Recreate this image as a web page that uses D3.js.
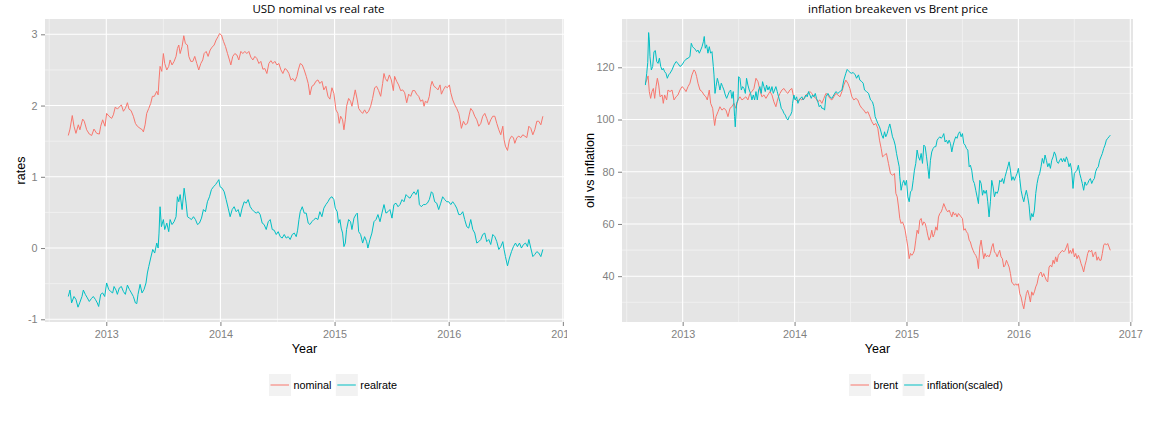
<!DOCTYPE html>
<html>
<head>
<meta charset="utf-8">
<script src="https://cdn.jsdelivr.net/npm/d3@7/dist/d3.min.js"></script>
<style>
  body { margin: 0; background: #fff; }
  svg { display: block; }
  text { font-family: "Liberation Sans", Arial, sans-serif; }
</style>
</head>
<body>
<svg id="chart" width="1160" height="423"></svg>
<script>
// ---- data (decimal years) ----
const nominalYears = [
  2012.667, 2012.682, 2012.702, 2012.717, 2012.734, 2012.755, 2012.769, 2012.793, 2012.807, 2012.828,
  2012.851, 2012.872, 2012.892, 2012.916, 2012.939, 2012.951, 2012.968, 2012.989, 2013.003, 2013.024,
  2013.047, 2013.062, 2013.079, 2013.097, 2013.114, 2013.132, 2013.150, 2013.167, 2013.185, 2013.199,
  2013.217, 2013.237, 2013.255, 2013.272, 2013.296, 2013.316, 2013.325, 2013.340, 2013.354, 2013.372,
  2013.389, 2013.404, 2013.421, 2013.442, 2013.454, 2013.462, 2013.471, 2013.486, 2013.500, 2013.512,
  2013.530, 2013.547, 2013.559, 2013.576, 2013.594, 2013.611, 2013.623, 2013.635, 2013.647, 2013.664,
  2013.679, 2013.693, 2013.711, 2013.723, 2013.740, 2013.758, 2013.775, 2013.793, 2013.810, 2013.828,
  2013.845, 2013.857, 2013.875, 2013.892, 2013.910, 2013.927, 2013.945, 2013.962, 2013.980, 2013.992,
  2014.009, 2014.027, 2014.044, 2014.062, 2014.079, 2014.091, 2014.108, 2014.126, 2014.144, 2014.161,
  2014.179, 2014.196, 2014.214, 2014.231, 2014.249, 2014.266, 2014.284, 2014.302, 2014.319, 2014.337,
  2014.354, 2014.372, 2014.389, 2014.407, 2014.424, 2014.442, 2014.459, 2014.477, 2014.495, 2014.512,
  2014.530, 2014.547, 2014.565, 2014.582, 2014.600, 2014.617, 2014.635, 2014.652, 2014.670, 2014.682,
  2014.699, 2014.717, 2014.734, 2014.752, 2014.769, 2014.784, 2014.801, 2014.819, 2014.836, 2014.854,
  2014.871, 2014.889, 2014.906, 2014.924, 2014.942, 2014.959, 2014.977, 2014.994, 2015.012, 2015.029,
  2015.041, 2015.053, 2015.070, 2015.082, 2015.094, 2015.105, 2015.123, 2015.140, 2015.152, 2015.170,
  2015.181, 2015.199, 2015.211, 2015.228, 2015.246, 2015.263, 2015.281, 2015.298, 2015.316, 2015.333,
  2015.351, 2015.368, 2015.386, 2015.404, 2015.421, 2015.433, 2015.445, 2015.462, 2015.480, 2015.497,
  2015.515, 2015.526, 2015.544, 2015.561, 2015.579, 2015.597, 2015.614, 2015.632, 2015.649, 2015.667,
  2015.684, 2015.702, 2015.719, 2015.737, 2015.754, 2015.772, 2015.784, 2015.795, 2015.813, 2015.830,
  2015.842, 2015.854, 2015.871, 2015.889, 2015.906, 2015.924, 2015.936, 2015.953, 2015.971, 2015.988,
  2016.006, 2016.018, 2016.035, 2016.053, 2016.070, 2016.088, 2016.099, 2016.111, 2016.129, 2016.146,
  2016.164, 2016.181, 2016.193, 2016.211, 2016.228, 2016.246, 2016.263, 2016.281, 2016.298, 2016.316,
  2016.333, 2016.351, 2016.368, 2016.386, 2016.404, 2016.421, 2016.439, 2016.456, 2016.474, 2016.485,
  2016.497, 2016.515, 2016.532, 2016.550, 2016.567, 2016.579, 2016.597, 2016.614, 2016.632, 2016.649,
  2016.667, 2016.684, 2016.702, 2016.719, 2016.737, 2016.754, 2016.772, 2016.789, 2016.807, 2016.825
];
const nominal = [
  1.58, 1.67, 1.86, 1.71, 1.61, 1.73, 1.66, 1.81, 1.78, 1.66,
  1.60, 1.58, 1.67, 1.61, 1.60, 1.71, 1.80, 1.71, 1.89, 1.85,
  1.82, 1.87, 1.98, 1.95, 1.98, 2.01, 1.92, 1.96, 2.04, 1.95,
  1.93, 1.85, 1.75, 1.71, 1.68, 1.66, 1.63, 1.73, 1.89, 1.96,
  2.03, 2.13, 2.13, 2.20, 2.15, 2.36, 2.55, 2.48, 2.73, 2.59,
  2.50, 2.55, 2.64, 2.57, 2.62, 2.69, 2.80, 2.85, 2.73, 2.83,
  2.98, 2.87, 2.85, 2.69, 2.62, 2.62, 2.69, 2.59, 2.50, 2.59,
  2.64, 2.73, 2.76, 2.69, 2.78, 2.82, 2.85, 2.92, 2.97, 3.01,
  2.99, 2.90, 2.83, 2.73, 2.64, 2.57, 2.69, 2.73, 2.71, 2.64,
  2.76, 2.73, 2.76, 2.73, 2.76, 2.68, 2.64, 2.69, 2.66, 2.59,
  2.62, 2.51, 2.52, 2.45, 2.59, 2.63, 2.59, 2.62, 2.57, 2.59,
  2.50, 2.45, 2.52, 2.50, 2.45, 2.36, 2.38, 2.34, 2.41, 2.50,
  2.59, 2.57, 2.50, 2.41, 2.31, 2.15, 2.27, 2.29, 2.34, 2.36,
  2.31, 2.34, 2.22, 2.27, 2.13, 2.09, 2.25, 2.17, 1.94, 1.89,
  1.75, 1.85, 1.80, 1.66, 1.80, 1.99, 2.10, 2.06, 1.99, 2.13,
  2.22, 2.08, 1.96, 1.92, 1.89, 1.94, 1.89, 1.92, 1.99, 2.10,
  2.25, 2.27, 2.21, 2.13, 2.31, 2.45, 2.38, 2.34, 2.43, 2.36,
  2.21, 2.41, 2.34, 2.29, 2.21, 2.22, 2.18, 2.04, 2.16, 2.13,
  2.21, 2.21, 2.16, 2.13, 2.06, 2.08, 1.99, 2.06, 2.04, 2.13,
  2.27, 2.34, 2.27, 2.25, 2.22, 2.29, 2.16, 2.22, 2.27, 2.25,
  2.29, 2.18, 2.08, 2.01, 1.96, 1.89, 1.80, 1.68, 1.78, 1.73,
  1.75, 1.88, 1.96, 1.92, 1.85, 1.80, 1.71, 1.75, 1.85, 1.89,
  1.82, 1.73, 1.80, 1.85, 1.85, 1.75, 1.66, 1.59, 1.71, 1.52,
  1.43, 1.37, 1.52, 1.57, 1.55, 1.47, 1.55, 1.57, 1.55, 1.59,
  1.57, 1.55, 1.71, 1.68, 1.59, 1.66, 1.78, 1.78, 1.73, 1.85
];

const realrateYears = [
  2012.667, 2012.682, 2012.696, 2012.717, 2012.734, 2012.752, 2012.769, 2012.787, 2012.799, 2012.816,
  2012.834, 2012.851, 2012.869, 2012.886, 2012.904, 2012.921, 2012.933, 2012.951, 2012.968, 2012.986,
  2013.003, 2013.021, 2013.038, 2013.056, 2013.068, 2013.085, 2013.097, 2013.114, 2013.132, 2013.150,
  2013.167, 2013.185, 2013.202, 2013.220, 2013.237, 2013.255, 2013.267, 2013.278, 2013.296, 2013.313,
  2013.331, 2013.348, 2013.360, 2013.372, 2013.389, 2013.407, 2013.424, 2013.442, 2013.454, 2013.462,
  2013.471, 2013.483, 2013.500, 2013.512, 2013.530, 2013.547, 2013.559, 2013.576, 2013.594, 2013.611,
  2013.623, 2013.635, 2013.647, 2013.664, 2013.682, 2013.699, 2013.711, 2013.729, 2013.746, 2013.764,
  2013.781, 2013.799, 2013.816, 2013.834, 2013.851, 2013.869, 2013.886, 2013.904, 2013.921, 2013.939,
  2013.957, 2013.974, 2013.986, 2013.997, 2014.015, 2014.033, 2014.050, 2014.068, 2014.085, 2014.103,
  2014.120, 2014.138, 2014.155, 2014.173, 2014.190, 2014.208, 2014.226, 2014.243, 2014.261, 2014.278,
  2014.296, 2014.313, 2014.331, 2014.348, 2014.366, 2014.383, 2014.401, 2014.419, 2014.436, 2014.454,
  2014.471, 2014.489, 2014.506, 2014.524, 2014.541, 2014.559, 2014.576, 2014.594, 2014.611, 2014.629,
  2014.647, 2014.664, 2014.676, 2014.688, 2014.699, 2014.717, 2014.734, 2014.752, 2014.769, 2014.784,
  2014.801, 2014.819, 2014.836, 2014.854, 2014.871, 2014.889, 2014.906, 2014.924, 2014.942, 2014.959,
  2014.977, 2014.994, 2015.006, 2015.023, 2015.035, 2015.047, 2015.058, 2015.070, 2015.082, 2015.094,
  2015.105, 2015.123, 2015.140, 2015.152, 2015.170, 2015.187, 2015.199, 2015.211, 2015.228, 2015.246,
  2015.263, 2015.281, 2015.292, 2015.310, 2015.327, 2015.345, 2015.363, 2015.380, 2015.398, 2015.415,
  2015.433, 2015.450, 2015.468, 2015.485, 2015.503, 2015.520, 2015.538, 2015.556, 2015.573, 2015.591,
  2015.608, 2015.626, 2015.643, 2015.661, 2015.678, 2015.696, 2015.713, 2015.731, 2015.743, 2015.760,
  2015.778, 2015.795, 2015.813, 2015.830, 2015.848, 2015.860, 2015.877, 2015.895, 2015.912, 2015.930,
  2015.947, 2015.965, 2015.983, 2016.000, 2016.018, 2016.035, 2016.053, 2016.070, 2016.088, 2016.105,
  2016.123, 2016.140, 2016.158, 2016.175, 2016.193, 2016.211, 2016.228, 2016.246, 2016.263, 2016.281,
  2016.298, 2016.316, 2016.333, 2016.351, 2016.368, 2016.386, 2016.404, 2016.421, 2016.439, 2016.456,
  2016.474, 2016.485, 2016.497, 2016.515, 2016.532, 2016.550, 2016.567, 2016.585, 2016.602, 2016.620,
  2016.637, 2016.655, 2016.673, 2016.690, 2016.702, 2016.719, 2016.737, 2016.754, 2016.772, 2016.789,
  2016.807, 2016.825
];
const realrate = [
  -0.68, -0.59, -0.77, -0.68, -0.72, -0.83, -0.76, -0.68, -0.59, -0.65,
  -0.70, -0.75, -0.71, -0.68, -0.72, -0.77, -0.82, -0.65, -0.63, -0.68,
  -0.49, -0.58, -0.61, -0.63, -0.54, -0.59, -0.65, -0.56, -0.54, -0.61,
  -0.65, -0.52, -0.58, -0.63, -0.68, -0.77, -0.78, -0.65, -0.51, -0.63,
  -0.58, -0.49, -0.35, -0.26, -0.14, -0.02, -0.07, 0.07, 0.00, 0.21,
  0.58, 0.30, 0.40, 0.26, 0.35, 0.23, 0.40, 0.33, 0.37, 0.44,
  0.72, 0.65, 0.75, 0.54, 0.84, 0.63, 0.44, 0.42, 0.40, 0.44,
  0.40, 0.33, 0.35, 0.42, 0.54, 0.51, 0.65, 0.72, 0.82, 0.86,
  0.89, 0.93, 0.96, 0.86, 0.84, 0.79, 0.68, 0.56, 0.44, 0.54,
  0.58, 0.51, 0.54, 0.44, 0.56, 0.65, 0.63, 0.68, 0.58, 0.54,
  0.51, 0.49, 0.51, 0.47, 0.35, 0.33, 0.26, 0.37, 0.40, 0.26,
  0.25, 0.19, 0.23, 0.16, 0.14, 0.19, 0.14, 0.16, 0.12, 0.19,
  0.21, 0.16, 0.25, 0.40, 0.51, 0.58, 0.49, 0.49, 0.35, 0.33,
  0.37, 0.40, 0.42, 0.40, 0.51, 0.44, 0.56, 0.61, 0.65, 0.70,
  0.72, 0.68, 0.56, 0.51, 0.35, 0.40, 0.28, 0.21, 0.02, 0.07,
  0.26, 0.40, 0.37, 0.26, 0.42, 0.47, 0.49, 0.23, 0.19, 0.07,
  0.16, 0.09, 0.00, 0.12, 0.21, 0.37, 0.40, 0.47, 0.37, 0.49,
  0.61, 0.49, 0.51, 0.54, 0.42, 0.61, 0.63, 0.58, 0.61, 0.68,
  0.65, 0.75, 0.72, 0.70, 0.75, 0.79, 0.75, 0.82, 0.61, 0.58,
  0.61, 0.61, 0.63, 0.68, 0.79, 0.77, 0.65, 0.63, 0.54, 0.63,
  0.72, 0.68, 0.65, 0.65, 0.61, 0.65, 0.61, 0.56, 0.47, 0.47,
  0.51, 0.40, 0.30, 0.28, 0.40, 0.26, 0.21, 0.07, 0.09, 0.12,
  0.19, 0.21, 0.09, 0.12, 0.05, 0.19, 0.16, 0.09, -0.02, 0.02,
  0.09, -0.02, -0.12, -0.25, -0.14, -0.05, 0.02, 0.07, 0.02, 0.07,
  0.00, 0.05, 0.07, 0.02, 0.12, 0.00, -0.12, -0.09, -0.05, -0.07,
  -0.12, -0.02
];

const brentYears = [
  2012.667, 2012.679, 2012.691, 2012.702, 2012.714, 2012.726, 2012.738, 2012.750, 2012.762, 2012.774,
  2012.786, 2012.798, 2012.816, 2012.827, 2012.839, 2012.857, 2012.869, 2012.887, 2012.905, 2012.923,
  2012.941, 2012.958, 2012.976, 2012.994, 2013.012, 2013.030, 2013.048, 2013.065, 2013.083, 2013.101,
  2013.113, 2013.125, 2013.137, 2013.155, 2013.173, 2013.191, 2013.208, 2013.220, 2013.238, 2013.250,
  2013.268, 2013.280, 2013.286, 2013.298, 2013.316, 2013.333, 2013.351, 2013.369, 2013.387, 2013.405,
  2013.423, 2013.440, 2013.458, 2013.476, 2013.494, 2013.512, 2013.530, 2013.548, 2013.565, 2013.583,
  2013.601, 2013.619, 2013.637, 2013.655, 2013.673, 2013.690, 2013.708, 2013.726, 2013.744, 2013.762,
  2013.780, 2013.798, 2013.815, 2013.833, 2013.851, 2013.869, 2013.887, 2013.905, 2013.923, 2013.940,
  2013.958, 2013.976, 2013.994, 2014.012, 2014.030, 2014.048, 2014.065, 2014.083, 2014.101, 2014.119,
  2014.137, 2014.155, 2014.173, 2014.191, 2014.208, 2014.226, 2014.244, 2014.262, 2014.280, 2014.298,
  2014.315, 2014.333, 2014.351, 2014.369, 2014.387, 2014.405, 2014.423, 2014.440, 2014.458, 2014.476,
  2014.494, 2014.512, 2014.530, 2014.548, 2014.565, 2014.583, 2014.601, 2014.619, 2014.637, 2014.655,
  2014.673, 2014.690, 2014.708, 2014.726, 2014.744, 2014.759, 2014.774, 2014.786, 2014.804, 2014.821,
  2014.839, 2014.857, 2014.875, 2014.893, 2014.905, 2014.917, 2014.929, 2014.940, 2014.952, 2014.964,
  2014.976, 2014.988, 2015.000, 2015.012, 2015.024, 2015.036, 2015.048, 2015.060, 2015.071, 2015.083,
  2015.095, 2015.107, 2015.119, 2015.131, 2015.143, 2015.155, 2015.167, 2015.179, 2015.190, 2015.202,
  2015.214, 2015.226, 2015.238, 2015.250, 2015.262, 2015.274, 2015.286, 2015.298, 2015.310, 2015.321,
  2015.333, 2015.345, 2015.357, 2015.369, 2015.381, 2015.393, 2015.405, 2015.417, 2015.429, 2015.440,
  2015.452, 2015.464, 2015.476, 2015.488, 2015.500, 2015.512, 2015.524, 2015.536, 2015.548, 2015.560,
  2015.571, 2015.583, 2015.595, 2015.607, 2015.619, 2015.631, 2015.643, 2015.655, 2015.667, 2015.679,
  2015.690, 2015.702, 2015.714, 2015.726, 2015.738, 2015.750, 2015.762, 2015.774, 2015.786, 2015.798,
  2015.810, 2015.821, 2015.833, 2015.845, 2015.857, 2015.869, 2015.881, 2015.893, 2015.905, 2015.917,
  2015.929, 2015.940, 2015.952, 2015.964, 2015.976, 2015.988, 2016.000, 2016.012, 2016.024, 2016.036,
  2016.048, 2016.060, 2016.071, 2016.083, 2016.095, 2016.107, 2016.119, 2016.131, 2016.143, 2016.155,
  2016.167, 2016.179, 2016.190, 2016.202, 2016.214, 2016.226, 2016.238, 2016.250, 2016.262, 2016.274,
  2016.286, 2016.298, 2016.310, 2016.321, 2016.333, 2016.345, 2016.357, 2016.369, 2016.381, 2016.393,
  2016.405, 2016.417, 2016.429, 2016.440, 2016.452, 2016.464, 2016.476, 2016.488, 2016.500, 2016.512,
  2016.524, 2016.536, 2016.548, 2016.560, 2016.571, 2016.583, 2016.595, 2016.607, 2016.619, 2016.631,
  2016.643, 2016.655, 2016.667, 2016.679, 2016.690, 2016.702, 2016.714, 2016.726, 2016.738, 2016.750,
  2016.762, 2016.774, 2016.786, 2016.798, 2016.810, 2016.821
];
const brent = [
  113.9, 115.1, 116.7, 110.7, 108.1, 110.7, 111.9, 108.1, 112.6, 115.8,
  113.2, 108.7, 109.4, 106.2, 109.4, 107.5, 111.3, 110.7, 111.3, 107.5,
  108.7, 109.4, 111.3, 112.6, 111.9, 110.7, 112.6, 113.9, 117.1, 119.0,
  118.3, 116.4, 113.9, 111.3, 110.7, 109.4, 108.7, 107.5, 111.3, 106.2,
  104.3, 99.8, 97.7, 101.1, 103.0, 104.9, 103.6, 104.3, 103.6, 101.1,
  104.3, 104.9, 106.2, 104.3, 107.5, 108.7, 107.5, 108.1, 108.7, 107.5,
  110.0, 110.7, 111.9, 115.8, 114.5, 111.3, 108.7, 109.4, 108.1, 109.4,
  110.7, 109.4, 106.8, 104.9, 108.1, 110.0, 111.3, 111.9, 110.7, 110.0,
  111.3, 111.9, 108.1, 107.5, 106.8, 108.1, 107.5, 108.1, 109.4, 110.0,
  110.7, 110.0, 108.7, 108.1, 106.8, 107.5, 106.2, 108.1, 110.0, 109.4,
  108.1, 107.5, 108.7, 110.0, 109.4, 108.7, 110.7, 113.2, 115.1, 113.9,
  111.9, 108.7, 107.5, 108.1, 107.5, 105.5, 104.3, 103.6, 102.4, 103.0,
  101.1, 99.2, 97.9, 98.5, 96.6, 92.1, 88.9, 85.7, 86.4, 87.0,
  83.2, 79.3, 78.7, 79.3, 71.7, 70.4, 66.5, 62.1, 60.2, 60.8,
  59.5, 57.6, 54.4, 51.2, 46.7, 48.7, 48.0, 48.7, 49.9, 53.8,
  57.6, 56.3, 61.4, 62.1, 59.5, 60.8, 60.2, 58.2, 55.7, 53.8,
  55.0, 57.6, 55.0, 56.3, 58.9, 57.6, 62.7, 64.0, 64.6, 65.9,
  67.8, 66.5, 65.3, 64.6, 65.3, 64.0, 62.7, 64.6, 63.4, 64.0,
  62.7, 64.0, 63.4, 62.7, 62.1, 57.6, 58.2, 57.0, 56.3, 53.8,
  53.1, 51.2, 49.9, 48.7, 48.0, 46.7, 42.9, 51.2, 53.8, 49.9,
  46.7, 48.7, 47.4, 48.0, 47.4, 48.7, 51.2, 52.5, 49.3, 48.7,
  47.4, 48.7, 49.9, 47.4, 46.7, 43.5, 44.2, 46.1, 44.8, 43.5,
  41.0, 37.8, 37.1, 36.5, 37.1, 36.5, 37.1, 33.3, 32.0, 29.5,
  27.5, 30.7, 33.3, 34.6, 32.7, 30.1, 34.0, 32.7, 34.0, 35.9,
  37.1, 39.7, 41.0, 41.6, 39.7, 41.0, 39.7, 38.4, 37.8, 43.5,
  44.2, 43.5, 46.1, 44.8, 47.4, 45.5, 48.0, 48.7, 49.3, 49.9,
  49.3, 49.9, 51.2, 52.5, 48.7, 49.9, 48.7, 50.6, 47.4, 48.7,
  46.7, 48.0, 46.7, 44.8, 43.5, 41.6, 44.2, 46.1, 48.7, 49.9,
  49.3, 49.9, 47.4, 48.7, 49.3, 46.1, 47.4, 46.1, 46.1, 48.7,
  51.9, 52.5, 51.9, 52.5, 51.2, 49.9
];

const inflationYears = [
  2012.667, 2012.679, 2012.688, 2012.696, 2012.702, 2012.708, 2012.720, 2012.732, 2012.744, 2012.756,
  2012.768, 2012.780, 2012.792, 2012.804, 2012.816, 2012.827, 2012.839, 2012.851, 2012.863, 2012.875,
  2012.887, 2012.905, 2012.923, 2012.941, 2012.958, 2012.976, 2012.994, 2013.012, 2013.030, 2013.048,
  2013.065, 2013.077, 2013.089, 2013.101, 2013.113, 2013.125, 2013.137, 2013.149, 2013.161, 2013.173,
  2013.185, 2013.193, 2013.202, 2013.214, 2013.226, 2013.238, 2013.250, 2013.262, 2013.274, 2013.280,
  2013.289, 2013.298, 2013.310, 2013.321, 2013.333, 2013.345, 2013.357, 2013.369, 2013.381, 2013.393,
  2013.405, 2013.417, 2013.429, 2013.440, 2013.452, 2013.464, 2013.470, 2013.482, 2013.494, 2013.500,
  2013.512, 2013.524, 2013.536, 2013.548, 2013.560, 2013.571, 2013.583, 2013.595, 2013.607, 2013.619,
  2013.631, 2013.643, 2013.655, 2013.667, 2013.679, 2013.690, 2013.702, 2013.714, 2013.726, 2013.738,
  2013.750, 2013.762, 2013.774, 2013.786, 2013.798, 2013.810, 2013.821, 2013.833, 2013.845, 2013.857,
  2013.869, 2013.881, 2013.893, 2013.905, 2013.917, 2013.929, 2013.940, 2013.952, 2013.964, 2013.976,
  2013.982, 2013.994, 2014.006, 2014.018, 2014.030, 2014.042, 2014.054, 2014.065, 2014.077, 2014.089,
  2014.101, 2014.113, 2014.125, 2014.137, 2014.149, 2014.161, 2014.173, 2014.185, 2014.196, 2014.208,
  2014.220, 2014.232, 2014.244, 2014.256, 2014.268, 2014.280, 2014.298, 2014.315, 2014.333, 2014.351,
  2014.369, 2014.387, 2014.405, 2014.423, 2014.440, 2014.458, 2014.470, 2014.488, 2014.506, 2014.524,
  2014.542, 2014.554, 2014.571, 2014.583, 2014.601, 2014.613, 2014.625, 2014.643, 2014.661, 2014.679,
  2014.696, 2014.708, 2014.720, 2014.732, 2014.744, 2014.759, 2014.768, 2014.780, 2014.792, 2014.804,
  2014.815, 2014.827, 2014.839, 2014.851, 2014.863, 2014.875, 2014.887, 2014.899, 2014.911, 2014.923,
  2014.935, 2014.940, 2014.952, 2014.964, 2014.976, 2014.988, 2015.000, 2015.012, 2015.024, 2015.036,
  2015.048, 2015.060, 2015.071, 2015.083, 2015.095, 2015.107, 2015.119, 2015.131, 2015.143, 2015.155,
  2015.167, 2015.179, 2015.190, 2015.202, 2015.214, 2015.226, 2015.238, 2015.250, 2015.262, 2015.274,
  2015.286, 2015.298, 2015.310, 2015.321, 2015.333, 2015.345, 2015.357, 2015.369, 2015.381, 2015.393,
  2015.405, 2015.417, 2015.429, 2015.440, 2015.452, 2015.464, 2015.476, 2015.488, 2015.500, 2015.512,
  2015.524, 2015.536, 2015.548, 2015.560, 2015.571, 2015.583, 2015.595, 2015.607, 2015.619, 2015.631,
  2015.643, 2015.655, 2015.667, 2015.679, 2015.690, 2015.702, 2015.714, 2015.726, 2015.738, 2015.750,
  2015.762, 2015.774, 2015.786, 2015.798, 2015.810, 2015.821, 2015.833, 2015.845, 2015.857, 2015.869,
  2015.881, 2015.893, 2015.905, 2015.917, 2015.929, 2015.940, 2015.952, 2015.964, 2015.976, 2015.988,
  2016.000, 2016.012, 2016.024, 2016.036, 2016.048, 2016.060, 2016.071, 2016.083, 2016.095, 2016.107,
  2016.119, 2016.131, 2016.143, 2016.155, 2016.167, 2016.179, 2016.190, 2016.202, 2016.214, 2016.226,
  2016.238, 2016.250, 2016.262, 2016.274, 2016.286, 2016.298, 2016.310, 2016.321, 2016.333, 2016.345,
  2016.357, 2016.369, 2016.381, 2016.393, 2016.405, 2016.417, 2016.429, 2016.440, 2016.452, 2016.464,
  2016.476, 2016.488, 2016.500, 2016.512, 2016.524, 2016.536, 2016.548, 2016.560, 2016.571, 2016.583,
  2016.595, 2016.607, 2016.619, 2016.631, 2016.643, 2016.655, 2016.667, 2016.679, 2016.690, 2016.702,
  2016.714, 2016.726, 2016.738, 2016.750, 2016.762, 2016.774, 2016.786, 2016.798, 2016.810, 2016.821
];
const inflation = [
  113.2, 117.7, 121.8, 133.3, 130.5, 124.1, 119.0, 120.3, 126.0, 126.4,
  122.2, 121.5, 123.5, 120.3, 119.0, 119.6, 118.3, 117.7, 115.8, 117.1,
  117.7, 119.0, 120.9, 122.2, 121.5, 120.3, 120.9, 122.2, 123.1, 123.5,
  124.1, 129.2, 127.9, 127.3, 126.9, 126.0, 126.6, 125.4, 126.6, 127.9,
  129.8, 131.8, 127.3, 128.6, 125.4, 127.9, 125.4, 126.0, 120.3, 117.1,
  110.0, 112.6, 115.8, 113.9, 111.3, 113.9, 112.6, 111.3, 109.4, 108.1,
  109.4, 110.7, 111.3, 108.1, 110.7, 101.1, 97.2, 106.2, 107.5, 116.4,
  115.8, 111.3, 112.6, 111.9, 110.0, 115.8, 113.2, 111.3, 110.0, 107.5,
  109.4, 107.5, 110.7, 107.5, 111.3, 112.6, 110.0, 114.5, 112.6, 110.7,
  113.2, 111.3, 112.6, 110.7, 112.6, 110.0, 111.3, 112.6, 110.7, 108.7,
  106.8, 104.3, 103.6, 102.4, 101.7, 100.4, 99.8, 101.1, 101.7, 103.0,
  106.2, 109.4, 107.5, 108.7, 106.2, 107.5, 108.1, 108.7, 107.5, 108.1,
  109.4, 108.7, 110.7, 109.4, 108.1, 109.4, 108.7, 110.0, 108.1, 106.8,
  104.9, 105.5, 104.3, 104.3, 103.6, 108.7, 110.0, 108.7, 108.1, 109.4,
  110.7, 110.0, 110.7, 111.3, 115.1, 117.7, 119.2, 118.3, 117.7, 118.0,
  117.1, 115.8, 117.1, 115.1, 114.5, 113.9, 111.3, 110.7, 110.0, 107.5,
  106.8, 104.9, 101.1, 99.8, 98.5, 97.2, 96.0, 94.0, 92.8, 95.3,
  93.4, 94.6, 96.6, 98.3, 96.0, 93.4, 92.1, 90.2, 87.0, 84.4,
  81.9, 78.1, 72.9, 75.5, 76.7, 74.8, 76.7, 70.4, 68.5, 72.3,
  72.9, 76.7, 80.6, 83.2, 88.3, 85.7, 84.4, 87.0, 83.2, 90.2,
  89.6, 85.7, 81.9, 77.4, 84.4, 87.6, 88.9, 89.6, 89.6, 92.1,
  92.8, 93.4, 92.8, 93.4, 94.6, 91.4, 92.1, 90.8, 92.1, 90.8,
  87.6, 90.2, 92.1, 93.4, 92.8, 94.6, 95.3, 93.4, 94.6, 90.8,
  90.2, 88.9, 88.3, 81.9, 82.5, 80.6, 76.7, 75.5, 72.9, 70.4,
  67.8, 76.7, 75.5, 71.0, 72.9, 71.7, 72.9, 68.5, 62.7, 68.5,
  76.7, 74.2, 70.4, 72.3, 71.7, 72.9, 76.7, 76.1, 77.4, 75.5,
  78.1, 80.0, 81.9, 83.8, 80.6, 76.7, 78.1, 76.7, 78.1, 79.3,
  81.3, 77.4, 72.9, 70.4, 68.5, 71.0, 72.9, 70.4, 67.2, 61.4,
  64.0, 62.7, 65.3, 71.7, 75.5, 78.1, 79.3, 81.9, 85.1, 83.2,
  86.4, 84.4, 81.9, 83.2, 81.3, 84.4, 85.7, 87.6, 86.4, 83.8,
  83.2, 84.4, 85.1, 83.8, 85.1, 83.8, 85.7, 84.4, 81.9, 83.2,
  80.6, 73.6, 79.3, 80.0, 80.6, 82.5, 79.3, 77.4, 75.5, 72.9,
  76.1, 74.8, 75.5, 76.7, 77.4, 75.5, 76.7, 77.4, 80.0, 81.3,
  81.9, 84.4, 85.7, 87.0, 88.9, 90.2, 92.1, 92.8, 93.4, 94.0
];

const yearTicks = [2013, 2014, 2015, 2016, 2017];
const yearMinor = [2012.5, 2013.5, 2014.5, 2015.5, 2016.5];
const rateTicks = [-1, 0, 1, 2, 3];
const rateMinor = [-0.5, 0.5, 1.5, 2.5];
const oilTicks = [40, 60, 80, 100, 120];
const oilMinor = [30, 50, 70, 90, 110, 130];

const RED = "#F8766D", CYAN = "#00BFC4";

const svg = d3.select("#chart");
svg.append("rect").attr("width", 1160).attr("height", 423).attr("fill", "#fff");

svg.append("defs").append("clipPath").attr("id", "leftClip")
  .append("rect").attr("x", 0).attr("y", 0).attr("width", 567).attr("height", 423);

function drawPanel(o) {
  const root = o.clip ? svg.append("g").attr("clip-path", `url(#${o.clip})`) : svg.append("g");
  const width = o.x1 - o.x0, height = o.y1 - o.y0;
  const g = root.append("g").attr("transform", `translate(${o.x0},${o.y0})`);

  const x = d3.scaleLinear().domain(o.xDomain).range([0, width]);
  const y = d3.scaleLinear().domain(o.yDomain).range([height, 0]);

  g.append("rect").attr("width", width).attr("height", height).attr("fill", "#e5e5e5");

  // minor grid
  g.selectAll(".vminor").data(o.xMinor.filter(v => v >= o.xDomain[0] && v <= o.xDomain[1]))
    .enter().append("line")
    .attr("x1", d => x(d)).attr("x2", d => x(d)).attr("y1", 0).attr("y2", height)
    .attr("stroke", "#f2f2f2").attr("stroke-width", 0.8);
  g.selectAll(".hminor").data(o.yMinor)
    .enter().append("line")
    .attr("y1", d => y(d)).attr("y2", d => y(d)).attr("x1", 0).attr("x2", width)
    .attr("stroke", "#f2f2f2").attr("stroke-width", 0.8);
  // major grid
  g.selectAll(".vmajor").data(o.xTicks.filter(v => v >= o.xDomain[0] && v <= o.xDomain[1]))
    .enter().append("line")
    .attr("x1", d => x(d)).attr("x2", d => x(d)).attr("y1", 0).attr("y2", height)
    .attr("stroke", "#fff").attr("stroke-width", 1.1);
  g.selectAll(".hmajor").data(o.yTicks)
    .enter().append("line")
    .attr("y1", d => y(d)).attr("y2", d => y(d)).attr("x1", 0).attr("x2", width)
    .attr("stroke", "#fff").attr("stroke-width", 1.1);

  // series
  const line = d3.line().x(d => x(d[0])).y(d => y(d[1]));
  o.series.forEach(s => {
    g.append("path")
      .datum(d3.zip(s.years, s.values))
      .attr("fill", "none")
      .attr("stroke", s.color)
      .attr("stroke-width", 1)
      .attr("d", line);
  });

  // axes (plain hyphen minus, integers, like the R output)
  const plain = d => String(d);
  const ax = g.append("g")
    .attr("transform", `translate(0,${height})`)
    .call(d3.axisBottom(x).tickValues(o.xTicks).tickFormat(plain).tickSize(4).tickPadding(4));
  const ay = g.append("g")
    .call(d3.axisLeft(y).tickValues(o.yTicks).tickFormat(plain).tickSize(4).tickPadding(3.5));
  [ax, ay].forEach(a => {
    a.select(".domain").remove();
    a.selectAll("line").attr("stroke", "#7f7f7f");
    a.selectAll("text").attr("fill", "#7f7f7f")
      .style("font-size", "10.8px")
      .style("font-family", '"Liberation Sans", Arial, sans-serif');
  });

  // titles
  root.append("text")
    .attr("x", o.titleX).attr("y", 12.5)
    .attr("text-anchor", "middle")
    .style("font-family", '"Open Sans", "DejaVu Sans", sans-serif')
    .style("font-size", "11.5px")
    .attr("fill", "#000")
    .text(o.title);
  root.append("text")
    .attr("x", o.x0 + width / 2).attr("y", 353)
    .attr("text-anchor", "middle")
    .style("font-size", "12.5px")
    .attr("fill", "#000")
    .text("Year");
  root.append("text")
    .attr("transform", `translate(${o.yLabelX},${o.y0 + height / 2}) rotate(-90)`)
    .attr("text-anchor", "middle")
    .style("font-size", "12.5px")
    .attr("fill", "#000")
    .text(o.yLabel);

  // legend
  let lx = o.legendX;
  const ly = 374;
  o.series.forEach(s => {
    root.append("rect").attr("x", lx).attr("y", ly).attr("width", 22).attr("height", 22).attr("fill", "#f2f2f2");
    root.append("line").attr("x1", lx + 1.5).attr("x2", lx + 20).attr("y1", ly + 11).attr("y2", ly + 11)
      .attr("stroke", s.color).attr("stroke-width", 1);
    const t = root.append("text").attr("x", lx + 24.5).attr("y", ly + 15.3)
      .style("font-size", "10.8px").attr("fill", "#000").text(s.name);
    lx += 24.5 + t.node().getComputedTextLength() + 4.5;
  });
}

drawPanel({
  x0: 45, x1: 564, y0: 19, y1: 322,
  xDomain: [2012.463, 2017.010], yDomain: [-1.038, 3.215],
  xTicks: yearTicks, xMinor: yearMinor, yTicks: rateTicks, yMinor: rateMinor,
  series: [
    { name: "nominal", years: nominalYears, values: nominal, color: RED },
    { name: "realrate", years: realrateYears, values: realrate, color: CYAN }
  ],
  title: "USD nominal vs real rate", titleX: 318.5,
  yLabel: "rates", yLabelX: 25,
  legendX: 269, clip: "leftClip"
});

drawPanel({
  x0: 622, x1: 1133, y0: 19, y1: 322,
  xDomain: [2012.458, 2017.024], yDomain: [22.45, 138.5],
  xTicks: yearTicks, xMinor: yearMinor, yTicks: oilTicks, yMinor: oilMinor,
  series: [
    { name: "brent", years: brentYears, values: brent, color: RED },
    { name: "inflation(scaled)", years: inflationYears, values: inflation, color: CYAN }
  ],
  title: "inflation breakeven vs Brent price", titleX: 898,
  yLabel: "oil vs inflation", yLabelX: 594,
  legendX: 849
});
</script>
</body>
</html>
